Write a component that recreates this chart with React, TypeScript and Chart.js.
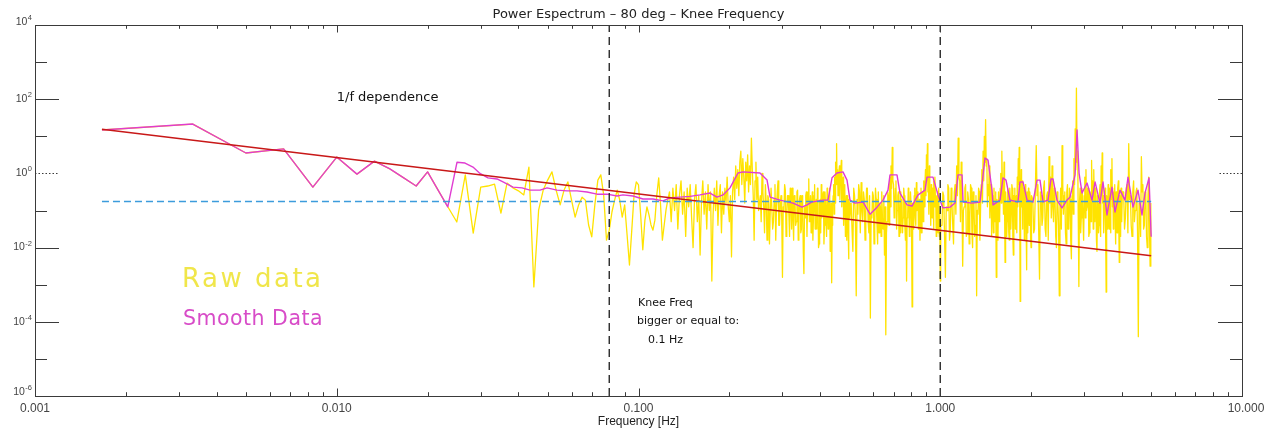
import React, { useEffect, useRef } from "react";
import { Chart, registerables } from "chart.js";

Chart.register(...registerables);

// ---------------- DATA ----------------
const TITLE = "Power Espectrum – 80 deg – Knee Frequency";
const X_TITLE = "Frequency [Hz]";

// FFT bin width of the spectrum (Hz)
const binWidthHz = 1 / 600;

// Raw spectrum, log10(power).
// bins 1..75 (every bin)
const rawLow = [
  1.17, 1.33, 0.55, 0.66, -0.37, 0.44, -0.02, 0.33, 0.12, -0.12,
  -0.34, 0.04, -0.45, -0.9, -1.31, -0.04, -1.61, -0.37, -0.34, -0.29,
  -1.07, -0.26, -0.39, -0.47, -0.58, 0.17, -3.06, -0.99, -0.45, -0.18,
  0.04, -0.45, -0.85, -0.45, -0.23, -0.72, -1.18, -0.85, -0.64, -0.72,
  -1.39, -1.71, -0.85, -0.18, -0.04, -0.58, -1.8, -1.53, -1.04, -0.72,
  -0.45, -0.72, -1.18, -0.85, -1.66, -2.47, -1.53, -0.58, -0.23, -0.31,
  -1.12, -2.06, -1.26, -0.9, -1.12, -1.39, -1.53, -1.26, -0.58, -0.12,
  -0.85, -1.8, -1.39, -0.99, -0.72,
];
// bins 76..150 step 1
const rawSeg1 = [
  -0.5, -1.3, -0.4, -1.0, -0.3, -1.5, -0.6, -0.2, -1.1, -0.5,
  -1.7, -0.4, -0.9, -0.3, -1.2, -2.0, -0.7, -0.3, -1.3, -0.6,
  -2.2, -0.8, -0.2, -1.1, -0.5, -1.5, -0.3, -1.0, -0.5, -2.9,
  -1.1, -0.4, -1.0, -0.2, -1.4, -0.6, -0.3, -1.6, -0.5, -1.1,
  -0.4, -0.8, -0.1, -0.9, -1.3, -0.6, -2.25, -0.5, -0.1, -0.7,
  0.2, -0.4, 0.1, -0.6, 0.3, 0.6, -0.3, 0.4, -0.1, -0.8,
  0.3, -0.2, 0.5, -0.5, 0.2, -0.3, 0.95, 0.1, -0.6, -1.8,
  -0.2, 0.3, -0.7, -0.1, -1.0,
];
// bins 152..300 step 2
const rawSeg2 = [
  -0.6, 0.0, -0.9, -0.3, -1.8, -0.7, -1.0, -0.4, -1.3, -0.3,
  -0.9, -0.2, -1.4, -0.6, -2.8, -1.0, -0.45, -1.2, -0.6, -1.7,
  -0.8, -0.4, -1.8, -0.7, -1.3, -0.45, -1.1, -0.6, -1.5, -0.9,
  -2.7, -1.2, -0.5, -0.9, -0.15, -1.0, -1.6, -0.5, -1.2, -0.3,
  -1.0, -1.5, -0.6, -1.9, -0.7, -0.3, -1.1, -0.5, -1.4, -0.8,
  -1.7, -0.6, -1.2, -0.4, -1.6, -2.95, -0.9, -0.3, -0.1, 0.3,
  0.8, 0.1, -0.4, 0.2, -0.2, 0.35, -0.5, -0.1, -0.9, -0.3,
  -1.1, -1.8, -0.6, -2.3, -0.8,
];
// bins 153..301 step 2
const rawSeg2b = [
  -1.3, -0.5, -1.6, -0.8, -0.6, -1.9, -0.4, -1.5, -0.7, -1.8,
  -0.5, -1.4, -0.8, -1.2, -0.9, -0.3, -1.7, -0.6, -1.1, -0.4,
  -1.5, -1.2, -0.6, -1.4, -0.5, -1.8, -0.7, -1.6, -0.6, -2.1,
  -0.9, -0.6, -1.7, -0.5, -1.3, -0.6, -0.9, -1.8, -0.6, -1.5,
  -0.7, -0.4, -2.0, -0.8, -1.6, -1.2, -0.6, -1.9, -0.5, -1.3,
  -0.4, -1.5, -0.7, -2.1, -0.8, -1.4, -0.6, -1.1, -0.8, -0.3,
  -0.2, -0.6, 0.0, -0.7, 0.1, -0.9, -0.3, -1.4, -0.5, -1.7,
  -0.6, -0.9, -1.5, -0.7, -1.2,
];
// bins 304..600 step 4
const rawSeg3 = [
  -0.8, -2.1, -0.6, -3.3, -1.1, -0.5, -0.25, -1.3, -0.7, -1.0,
  -0.4, -1.6, -3.9, -1.2, -0.6, -1.4, -0.7, -1.9, -1.6, -0.9,
  -0.5, -1.5, -2.2, -4.35, -1.3, -0.6, -0.1, 0.2, 0.7, -0.3,
  -0.8, -0.2, -1.0, -0.5, -1.4, -1.6, -0.7, -1.2, -0.6, -1.8,
  -2.9, -1.1, -0.5, -1.3, -0.8, -3.6, -1.0, -0.6, -1.2, -0.25,
  -0.9, -1.5, -0.7, -1.1, -1.6, -0.5, -0.2, -0.9, 0.1, 0.5,
  0.8, -0.3, 0.2, -0.7, -0.3, -1.2, -0.6, -0.2, -0.1, -0.8,
  -1.3, -0.5, -1.0, -1.7, -2.9,
];
// bins 306..602 step 4
const rawSeg3b = [
  -1.5, -0.4, -1.2, -0.7, -0.3, -1.6, -1.0, -0.5, -1.8, -0.4,
  -1.3, -0.6, -1.1, -0.5, -1.9, -0.4, -1.3, -0.5, -0.8, -1.7,
  -1.2, -0.6, -0.9, -1.6, -0.5, -1.4, -0.9, -0.4, -0.2, -1.2,
  -0.4, -1.5, -0.6, -1.7, -0.5, -0.9, -1.6, -0.4, -1.4, -0.8,
  -1.2, -0.4, -1.7, -0.5, -1.6, -0.8, -1.5, -0.4, -1.4, -1.0,
  -0.5, -1.0, -1.8, -0.4, -0.9, -1.3, -0.8, -0.3, -0.6, -0.2,
  -0.5, -1.1, -0.6, -1.4, -1.0, -0.4, -1.5, -0.9, -0.6, -1.7,
  -0.6, -1.6, -0.4, -1.1, -1.4,
];
// bins 608..1200 step 8
const rawSeg4 = [
  -1.4, -0.6, -2.8, -1.0, -0.4, -1.5, -0.8, -1.9, -0.3, 0.2,
  0.95, -0.2, 0.3, -2.5, -0.9, -0.3, -1.6, -0.7, -1.2, -0.4,
  -2.0, -0.8, -1.4, -3.3, -1.1, -0.5, -1.0, 0.1, 0.6, 1.0,
  1.45, 0.4, -0.3, 0.2, -0.6, -1.7, -0.9, -0.4, -1.3, -2.8,
  -1.0, -0.5, -1.2, 0.0, 0.6, -0.2, 0.3, -2.4, -0.8, -1.3,
  -0.5, -1.8, -0.7, -1.1, -0.4, -2.2, -0.9, -1.5, -0.6, -0.1,
  0.4, 0.7, -3.45, 0.1, -0.2, -1.0, -0.5, -1.6, -0.8, -2.6,
  -1.1, -0.4, -1.4, -0.7, -2.0,
];
// bins 612..1204 step 8
const rawSeg4b = [
  -0.5, -1.7, -0.9, -0.3, -1.8, -0.4, -1.4, -0.5, -1.1, -0.6,
  -0.1, -1.3, -0.7, -1.0, -0.4, -1.7, -0.5, -1.9, -0.3, -1.6,
  -0.5, -1.7, -0.6, -1.0, -0.4, -1.8, -0.3, -0.8, -0.2, 0.3,
  0.2, -0.9, -0.6, -1.2, -0.3, -0.6, -1.6, -1.1, -0.5, -0.7,
  -1.8, -1.3, -0.4, -0.8, -0.3, -1.1, -0.9, -0.5, -1.7, -0.4,
  -1.6, -0.4, -1.5, -0.3, -1.7, -0.6, -0.4, -0.8, -1.6, -0.9,
  -0.3, -0.6, -1.0, -0.9, -1.5, -0.4, -1.8, -0.3, -1.5, -0.5,
  -1.6, -1.2, -0.5, -1.8, -0.6,
];
// bins 1216..2400 step 16
const rawSeg5 = [
  -0.7, -1.5, 0.75, -0.3, -2.85, -0.6, -1.2, -0.2, -1.7, -0.5,
  0.45, -0.1, 0.2, -1.3, -0.6, -2.0, -0.8, -3.3, -0.4, 0.75,
  -1.1, -0.5, -1.9, -0.3, -1.4, -0.7, -2.3, -0.2, 0.4, 1.2,
  2.3, 0.6, -3.05, -0.4, -1.2, -0.6, -1.8, -0.1, 0.1, -0.9,
  -0.4, -1.6, -0.7, 0.35, -0.2, 0.1, -1.3, -0.5, -2.1, -0.8,
  -1.4, -0.3, 0.2, 0.55, -0.6, -1.1, -0.4, -3.2, -0.9, -0.3,
  -1.5, -0.7, 0.1, 0.4, -0.5, -1.2, -0.3, -1.9, -0.6, -1.1,
  -0.2, -2.4, -0.8, -0.4, -1.3,
];
// bins 1224..2408 step 16
const rawSeg5b = [
  -1.6, -0.4, -0.6, -1.6, -0.5, -1.4, -0.4, -1.5, -0.6, -1.8,
  -0.8, -1.2, -0.9, -0.4, -1.7, -0.5, -1.4, -0.9, -1.5, -0.3,
  -0.6, -1.6, -0.5, -1.5, -0.4, -1.8, -0.6, -1.1, -0.3, 0.1,
  0.3, -1.2, -0.8, -1.6, -0.4, -1.3, -0.6, -1.2, -1.0, -0.4,
  -1.7, -0.5, -1.3, -0.6, -1.5, -0.7, -0.4, -1.8, -0.6, -1.6,
  -0.5, -1.7, -0.6, -0.8, -1.6, -0.5, -1.7, -0.6, -1.5, -1.2,
  -0.4, -1.6, -0.7, -0.9, -1.5, -0.4, -1.3, -0.5, -1.6, -0.4,
  -1.5, -0.6, -1.7, -1.2, -0.5,
];
// bins 2432..2976 step 32
const rawSeg6 = [
  -0.5, -1.2, -0.3, 0.8, -0.6, -1.7, -0.2, -1.0, -0.4, -4.4,
  -0.9, 0.45, -0.3, -1.4, -0.6, -2.0, -0.1, -2.5,
];
// bins 2448..2992 step 32
const rawSeg6b = [
  -1.5, -0.4, -1.6, -0.7, -1.4, -0.5, -1.3, -0.5, -1.6, -0.8,
  -1.7, -0.5, -1.5, -0.5, -1.7, -0.6, -1.4, -0.8,
];

const rawSegments = [
  { firstBin: 1, binStep: 1, values: rawLow },
  { firstBin: 76, binStep: 1, values: rawSeg1 },
  { firstBin: 152, binStep: 2, values: rawSeg2 },
  { firstBin: 153, binStep: 2, values: rawSeg2b },
  { firstBin: 304, binStep: 4, values: rawSeg3 },
  { firstBin: 306, binStep: 4, values: rawSeg3b },
  { firstBin: 608, binStep: 8, values: rawSeg4 },
  { firstBin: 612, binStep: 8, values: rawSeg4b },
  { firstBin: 1216, binStep: 16, values: rawSeg5 },
  { firstBin: 1224, binStep: 16, values: rawSeg5b },
  { firstBin: 2432, binStep: 32, values: rawSeg6 },
  { firstBin: 2448, binStep: 32, values: rawSeg6b },
];

// Smoothed spectrum: frequency (Hz) and log10(power)
const smoothFreq = [
  0.001667, 0.003333, 0.005, 0.006667, 0.008333, 0.01, 0.01167, 0.01333, 0.015, 0.01667,
  0.01833, 0.02, 0.02167, 0.02333,
  0.02503, 0.02661, 0.02828, 0.02983, 0.03171, 0.03397, 0.03556, 0.03838, 0.04111, 0.04369,
  0.04716, 0.04976, 0.0537, 0.05794, 0.06255, 0.0675, 0.07288, 0.07864, 0.08487, 0.08884,
  0.0959, 0.1035, 0.1117, 0.1206, 0.1272, 0.1373, 0.1482, 0.1599, 0.1726, 0.182,
  0.1906, 0.201, 0.2137, 0.222, 0.2527, 0.2667, 0.2729, 0.2944, 0.3251, 0.3482,
  0.3618, 0.3758, 0.4087, 0.4246, 0.4378, 0.4548, 0.4761, 0.4909, 0.5023, 0.5218,
  0.5546, 0.5851, 0.6172, 0.6461, 0.6712, 0.6815, 0.7189, 0.7356, 0.776, 0.8062,
  0.844, 0.8903, 0.904, 0.9462, 0.9829, 1.021, 1.077, 1.119, 1.145, 1.181,
  1.19, 1.274, 1.354, 1.407, 1.44, 1.484, 1.496, 1.578, 1.614, 1.652,
  1.702, 1.81, 1.838, 1.88, 1.939, 2.03, 2.093, 2.141, 2.191, 2.276,
  2.328, 2.364, 2.437, 2.532, 2.631, 2.692, 2.797, 2.84, 2.884, 2.951,
  3.065, 3.184, 3.258, 3.383, 3.462, 3.569, 3.708, 3.794, 3.942, 4.095,
  4.19, 4.353, 4.522, 4.662, 4.77, 4.919, 5.0,
];
const smoothLog = [
  1.17, 1.33, 0.55, 0.66, -0.37, 0.44, -0.02, 0.33, 0.12, -0.12,
  -0.34, 0.04, -0.45, -0.9,
  0.3, 0.28, 0.17, 0.0, -0.12, -0.15, -0.23, -0.37, -0.39, -0.45,
  -0.45, -0.39, -0.45, -0.47, -0.47, -0.5, -0.56, -0.56, -0.61, -0.58,
  -0.61, -0.69, -0.69, -0.74, -0.66, -0.64, -0.62, -0.58, -0.53, -0.64,
  -0.58, -0.39, 0.01, 0.04, 0.01, -0.18, -0.64, -0.72, -0.8, -0.91,
  -0.85, -0.77, -0.72, -0.72, -0.12, 0.01, 0.04, -0.18, -0.72, -0.8,
  -0.77, -1.1, -0.91, -0.72, -0.45, -0.04, -0.04, -0.53, -0.85, -0.88,
  -0.58, -0.45, -0.1, -0.1, -0.58, -0.93, -0.91, -0.8, -0.04, -0.04,
  -0.77, -0.8, -0.77, 0.415, 0.36, -0.45, -0.85, -0.72, -0.12, -0.18,
  -0.72, -0.77, -0.23, -0.23, -0.72, -0.77, -0.18, -0.18, -0.77, -0.72,
  -0.15, -0.15, -0.72, -0.93, -0.72, -0.64, -0.04, 1.17, 0.01, -0.53,
  -0.26, -0.72, -0.23, -0.8, -0.23, -1.12, -0.37, -1.04, -0.45, -0.72,
  -0.1, -0.91, -0.45, -1.12, -0.53, -0.12, -1.71,
];

// 1/f fit (straight line in log-log)
const fitFreq = [0.001667, 5.0];
const fitPower = [15.5, 0.006];

// white-noise level
const whiteFreq = [0.001667, 5.0];
const whitePower = [0.175, 0.175];

// vertical dashed markers (Hz)
const markerFreqs = [0.08, 1.0];

// axis ticks
const xMajorTicks = [0.001, 0.01, 0.1, 1, 10];
const xTickLabels = ["0.001", "0.010", "0.100", "1.000", "10.000"];
const yMajorTicks = [1e4, 1e2, 1, 1e-2, 1e-4, 1e-6];
const yTickExponents = ["4", "2", "0", "-2", "-4", "-6"];
const yMinorTicks = [1e3, 1e1, 1e-1, 1e-3, 1e-5];

// ---------------- BUILD ----------------
const rawPoints: { x: number; y: number }[] = [];
for (const seg of rawSegments) {
  seg.values.forEach((v, i) => {
    rawPoints.push({ x: (seg.firstBin + i * seg.binStep) * binWidthHz, y: Math.pow(10, v) });
  });
}
rawPoints.sort((p, q) => p.x - q.x);
const smoothPoints = smoothFreq.map((f, i) => ({ x: f, y: Math.pow(10, smoothLog[i]) }));
const fitPoints = fitFreq.map((f, i) => ({ x: f, y: fitPower[i] }));
const whitePoints = whiteFreq.map((f, i) => ({ x: f, y: whitePower[i] }));

const xMinorTicks: number[] = [];
for (const d of [0.001, 0.01, 0.1, 1]) for (let m = 2; m <= 9; m++) xMinorTicks.push(m * d);

const SANS = "'Liberation Sans', Arial, sans-serif";
const DJ = "'DejaVu Sans', sans-serif";

const idlAxes = {
  id: "idlAxes",
  afterDatasetsDraw(chart: any) {
    const { ctx, chartArea: a, scales } = chart;
    const xs = scales.x;
    const ys = scales.y;
    ctx.save();
    ctx.strokeStyle = "#3a3a3a";
    ctx.lineWidth = 1;
    ctx.setLineDash([]);
    ctx.strokeRect(Math.round(a.left) + 0.5, Math.round(a.top) + 0.5, Math.round(a.right - a.left), Math.round(a.bottom - a.top));

    const vline = (x: number, y0: number, y1: number) => {
      const px = Math.round(x) + 0.5;
      ctx.beginPath();
      ctx.moveTo(px, y0);
      ctx.lineTo(px, y1);
      ctx.stroke();
    };
    const hline = (y: number, x0: number, x1: number) => {
      const py = Math.round(y) + 0.5;
      ctx.beginPath();
      ctx.moveTo(x0, py);
      ctx.lineTo(x1, py);
      ctx.stroke();
    };
    const xMajLen = 7.5, xMinLen = 3.8, yMajLen = 24, yMinLen = 12;
    for (const v of xMajorTicks) {
      const px = xs.getPixelForValue(v);
      vline(px, a.bottom, a.bottom - xMajLen);
      vline(px, a.top, a.top + xMajLen);
    }
    for (const v of xMinorTicks) {
      const px = xs.getPixelForValue(v);
      vline(px, a.bottom, a.bottom - xMinLen);
      vline(px, a.top, a.top + xMinLen);
    }
    for (const v of yMajorTicks) {
      const py = ys.getPixelForValue(v);
      if (v === 1) ctx.setLineDash([1.5, 2]);
      hline(py, a.left, a.left + yMajLen);
      hline(py, a.right, a.right - yMajLen);
      ctx.setLineDash([]);
    }
    for (const v of yMinorTicks) {
      const py = ys.getPixelForValue(v);
      hline(py, a.left, a.left + yMinLen);
      hline(py, a.right, a.right - yMinLen);
    }

    // y tick labels
    ctx.fillStyle = "#444";
    yMajorTicks.forEach((v, i) => {
      let py = ys.getPixelForValue(v);
      if (i === 0) py -= 3;
      if (i === yMajorTicks.length - 1) py -= 4;
      const rightX = a.left - 3;
      ctx.textAlign = "right";
      ctx.textBaseline = "middle";
      ctx.font = `7.5px ${SANS}`;
      const exp = yTickExponents[i];
      const ew = ctx.measureText(exp).width;
      ctx.fillText(exp, rightX, py - 4);
      ctx.font = `10.5px ${SANS}`;
      ctx.fillText("10", rightX - ew - 0.5, py);
    });

    // x tick labels
    ctx.font = `12px ${SANS}`;
    ctx.textAlign = "center";
    ctx.textBaseline = "middle";
    xMajorTicks.forEach((v, i) => {
      let px = xs.getPixelForValue(v);
      if (i === xMajorTicks.length - 1) px += 4;
      ctx.fillText(xTickLabels[i], px, 409);
    });
    ctx.fillStyle = "#222";
    ctx.fillText(X_TITLE, (a.left + a.right) / 2, 422);

    // title
    ctx.font = `13px ${DJ}`;
    ctx.fillStyle = "#222";
    ctx.fillText(TITLE, (a.left + a.right) / 2, 15);

    // annotations
    ctx.textAlign = "left";
    ctx.textBaseline = "alphabetic";
    ctx.fillStyle = "#111";
    ctx.font = `13px ${DJ}`;
    ctx.fillText("1/f dependence", xs.getPixelForValue(0.01), 101);
    ctx.font = `11px ${DJ}`;
    ctx.fillText("Knee Freq", 638, 306);
    ctx.fillText("bigger or equal to:", 637, 323.5);
    ctx.fillText("0.1 Hz", 648, 343);

    // legend-like labels
    (ctx as any).letterSpacing = "2.5px";
    ctx.font = `26px ${DJ}`;
    ctx.fillStyle = "#F0E64A";
    ctx.fillText("Raw data", 182, 287);
    (ctx as any).letterSpacing = "0.5px";
    ctx.font = `20.5px ${DJ}`;
    ctx.fillStyle = "#D84CC8";
    ctx.fillText("Smooth Data", 183, 325);
    (ctx as any).letterSpacing = "0px";
    ctx.restore();
  },
};

export default function App() {
  const ref = useRef<HTMLCanvasElement | null>(null);
  useEffect(() => {
    if (!ref.current) return;
    const markerDatasets = markerFreqs.map((f) => ({
      data: [
        { x: f, y: 1e-6 },
        { x: f, y: 1e4 },
      ],
      showLine: true,
      borderColor: "#2a2a2a",
      borderWidth: 1.4,
      borderDash: [8, 5],
      pointRadius: 0,
      order: 0,
    }));
    const chart = new Chart(ref.current, {
      type: "scatter",
      data: {
        datasets: [
          {
            label: "Raw data",
            data: rawPoints,
            showLine: true,
            borderColor: "#FFE300",
            borderWidth: 1.3,
            borderJoinStyle: "round",
            pointRadius: 0,
            order: 5,
          },
          {
            label: "Smooth Data",
            data: smoothPoints,
            showLine: true,
            borderColor: "#E03CD2",
            borderWidth: 1.4,
            borderJoinStyle: "round",
            pointRadius: 0,
            order: 4,
          },
          {
            label: "1/f fit",
            data: fitPoints,
            showLine: true,
            borderColor: "#C81818",
            borderWidth: 1.5,
            pointRadius: 0,
            order: 3,
          },
          {
            label: "white noise",
            data: whitePoints,
            showLine: true,
            borderColor: "#3C9CDC",
            borderWidth: 1.5,
            borderDash: [7, 4],
            pointRadius: 0,
            order: 2,
          },
          ...markerDatasets,
        ] as any,
      },
      options: {
        responsive: false,
        animation: false,
        devicePixelRatio: 1,
        events: [],
        layout: { padding: { left: 35, right: 22, top: 25, bottom: 34 } },
        plugins: {
          legend: { display: false },
          tooltip: { enabled: false },
          title: { display: false },
        },
        elements: { line: { tension: 0 }, point: { radius: 0 } },
        scales: {
          x: { type: "logarithmic", min: 0.001, max: 10, display: false },
          y: { type: "logarithmic", min: 1e-6, max: 1e4, display: false },
        },
      } as any,
      plugins: [idlAxes],
    });
    return () => chart.destroy();
  }, []);
  return (
    <div style={{ position: "absolute", left: 0, top: 0, width: 1264, height: 430, background: "#fff" }}>
      <canvas ref={ref} width={1264} height={430} style={{ display: "block", width: 1264, height: 430 }} />
    </div>
  );
}
